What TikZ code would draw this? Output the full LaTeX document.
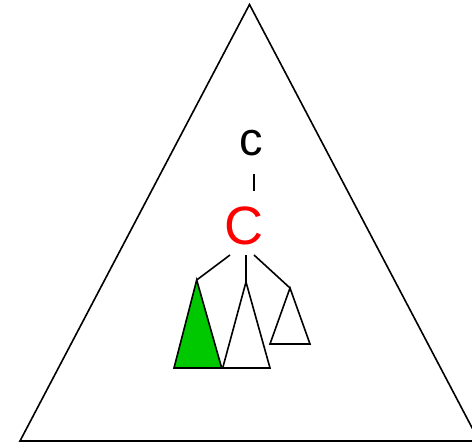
\documentclass[tikz,border=0pt]{standalone}
\usepackage{fontspec}
\setmainfont{Liberation Sans}
\definecolor{subgreen}{RGB}{0,200,0}
\begin{document}
\begin{tikzpicture}[x=1pt, y=-1pt,
    every node/.style={inner sep=0pt, anchor=base},
    edge/.style={line width=1.6pt},
    subtree/.style={draw, line width=1.6pt, line join=miter}
]
\clip (0,0) rectangle (472,443);
% outer tree
\draw[line width=1.6pt, line join=miter] (249.5,4.5) -- (20,441) -- (479,441) -- cycle;
% labels
\node (root) at (251,156) {\fontsize{47}{47}\selectfont c};
\node[text=red] (child) at (244,245) {\fontsize{54}{54}\selectfont C};
% subtrees
\coordinate (a1) at (196.7,280);
\coordinate (a2) at (246,282);
\coordinate (a3) at (290,288);
\filldraw[subtree, fill=subgreen] (a1) -- (174,368) -- (221.7,368) -- cycle;
\draw[subtree] (a2) -- (222.7,368) -- (270,368) -- cycle;
\draw[subtree] (a3) -- (270,344) -- (310,344) -- cycle;
% connectors
\coordinate (up) at (254,174);
\coordinate (down) at (254,191);
\draw[edge] (up) -- (down);
\coordinate (s1) at (230,255);
\coordinate (s2) at (246,255);
\coordinate (s3) at (254,255);
\draw[edge] (s1) -- (a1);
\draw[edge] (s2) -- (a2);
\draw[edge] (s3) -- (a3);
\end{tikzpicture}
\end{document}
